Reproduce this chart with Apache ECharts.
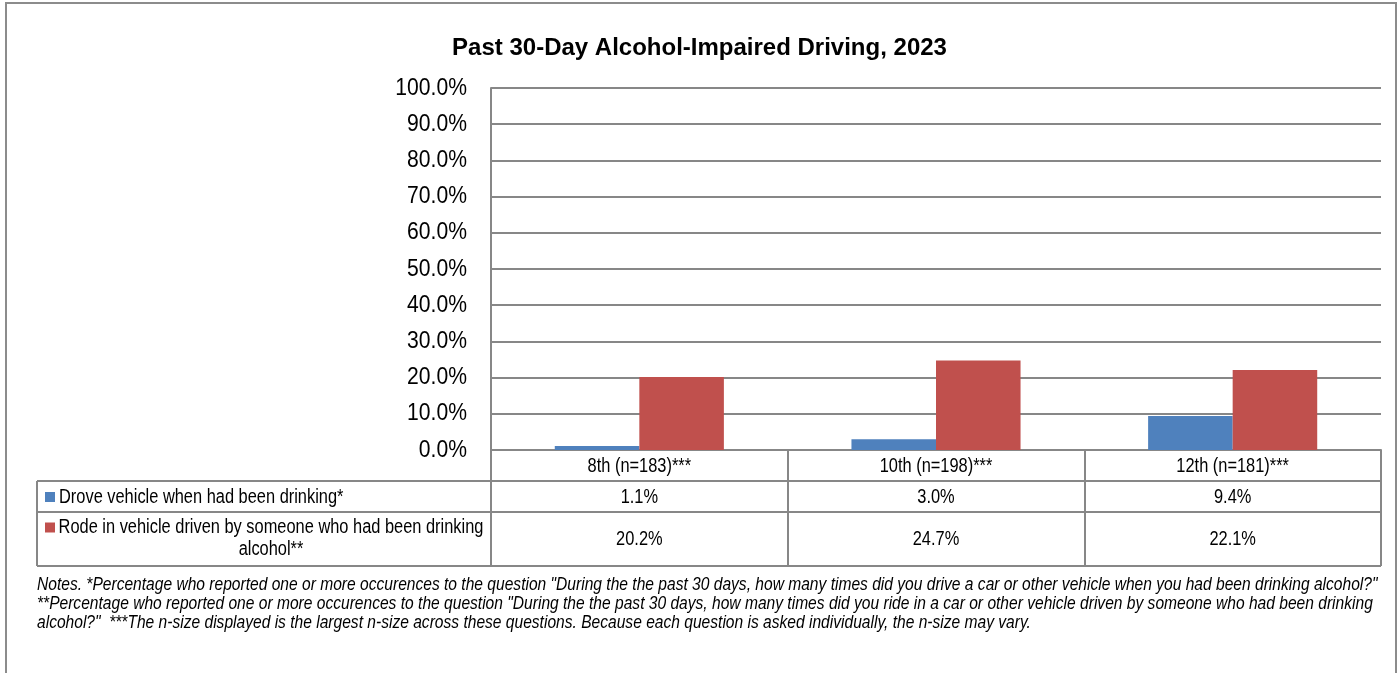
<!DOCTYPE html>
<html><head><meta charset="utf-8">
<script src="https://cdn.jsdelivr.net/npm/echarts@6/dist/echarts.min.js"></script>
<style>html,body{margin:0;padding:0;background:#fff}#c{width:1399px;height:673px}</style>
</head><body><div id="c"></div>
<script>
const titleText = 'Past 30-Day Alcohol-Impaired Driving, 2023';
const categories = ['8th (n=183)***', '10th (n=198)***', '12th (n=181)***'];
const seriesNames = ['Drove vehicle when had been drinking*', 'Rode in vehicle driven by someone who had been drinking alcohol**'];
const seriesLabelLines = [['Drove vehicle when had been drinking*'], ['Rode in vehicle driven by someone who had been drinking', 'alcohol**']];
const droveValues = [1.1, 3.0, 9.4];
const rodeValues = [20.2, 24.7, 22.1];
const yTicks = [0, 10, 20, 30, 40, 50, 60, 70, 80, 90, 100];
const seriesColors = ['#4F81BD', '#C0504D'];
const notesLines = [
  'Notes. *Percentage who reported one or more occurences to the question "During the the past 30 days, how many times did you drive a car or other vehicle when you had been drinking alcohol?"',
  '**Percentage who reported one or more occurences to the question "During the the past 30 days, how many times did you ride in a car or other vehicle driven by someone who had been drinking',
  'alcohol?"  ***The n-size displayed is the largest n-size across these questions. Because each question is asked individually, the n-size may vary.'
];

const FONT = '"Liberation Sans", Arial, sans-serif';
const NARROW = 0.82;
const GRID_C = '#878787';
const chart = echarts.init(document.getElementById('c'), null, {renderer: 'canvas'});

const option = {
  animation: false,
  backgroundColor: '#fff',
  textStyle: {fontFamily: FONT},
  title: {
    text: titleText, left: 'center', top: 31,
    textStyle: {fontFamily: FONT, fontWeight: 'bold', fontSize: 24, color: '#000'}
  },
  grid: {left: 491, right: 18, top: 88, bottom: 223, containLabel: false},
  xAxis: {
    type: 'category', data: categories,
    axisLine: {show: true, lineStyle: {color: GRID_C, width: 2}},
    axisTick: {show: true, length: 116, inside: false, lineStyle: {color: GRID_C, width: 2}},
    axisLabel: {show: false}
  },
  yAxis: {
    type: 'value', min: yTicks[0], max: yTicks[yTicks.length - 1], interval: yTicks[1] - yTicks[0],
    axisLine: {show: true, lineStyle: {color: GRID_C, width: 2}},
    axisTick: {show: false},
    splitLine: {show: true, lineStyle: {color: GRID_C, width: 2}},
    axisLabel: {show: false}
  },
  series: [
    {name: seriesNames[0], type: 'bar', data: droveValues, barGap: '0%', barCategoryGap: '43%',
      itemStyle: {color: seriesColors[0]}},
    {name: seriesNames[1], type: 'bar', data: rodeValues, barGap: '0%', barCategoryGap: '43%',
      itemStyle: {color: seriesColors[1]}}
  ]
};
chart.setOption(option);

// Data table, axis labels (condensed) and notes
const L = 37, R = 1381, yAxisY = 450, yCatBottom = 481, yRow1Bottom = 512, yRow2Bottom = 566;
const lineStyle = {stroke: GRID_C, lineWidth: 2};
const g = [];
function txt(x, y, text, size, align, scaleX, extra) {
  return Object.assign({type: 'text', x: x, y: y, scaleX: scaleX, silent: true,
    style: {text: text, fontFamily: FONT, fontSize: size, fill: '#000', align: align, verticalAlign: 'middle'}}, extra || {});
}
g.push({type: 'rect', shape: {x: 6, y: 3, width: 1390, height: 700}, style: {fill: null, stroke: '#8c8c8c', lineWidth: 2}, silent: true});
[yCatBottom, yRow1Bottom, yRow2Bottom].forEach(y => {
  g.push({type: 'line', shape: {x1: L, y1: y, x2: R, y2: y}, style: lineStyle});
});
g.push({type: 'line', shape: {x1: L, y1: yCatBottom, x2: L, y2: yRow2Bottom}, style: lineStyle});

// y-axis labels
yTicks.forEach(v => {
  const y = chart.convertToPixel({yAxisIndex: 0}, v);
  g.push(txt(467, y, v.toFixed(1) + '%', 24, 'right', 0.88));
});
// category labels
categories.forEach(c => {
  const x = chart.convertToPixel({xAxisIndex: 0}, c);
  g.push(txt(x, (yAxisY + yCatBottom) / 2 + 1, c, 20, 'center', NARROW));
});

const rows = [
  {values: droveValues, yc: (yCatBottom + yRow1Bottom) / 2 + 0.5, color: seriesColors[0], lines: seriesLabelLines[0], align: 'left'},
  {values: rodeValues, yc: (yRow1Bottom + yRow2Bottom) / 2, color: seriesColors[1], lines: seriesLabelLines[1], align: 'center'}
];
rows.forEach(r => {
  const firstY = r.lines.length > 1 ? r.yc - 11.5 : r.yc;
  g.push({type: 'rect', shape: {x: 45, y: firstY - 5, width: 10, height: 10}, style: {fill: r.color}});
  r.lines.forEach((t, li) => {
    g.push(txt(r.align === 'left' ? 59 : 271, firstY + li * 22, t, 20, r.align, NARROW));
  });
  categories.forEach((c, ci) => {
    const x = chart.convertToPixel({xAxisIndex: 0}, c);
    g.push(txt(x, r.yc, r.values[ci].toFixed(1) + '%', 20, 'center', NARROW));
  });
});
notesLines.forEach((t, i) => {
  const e = txt(37, 585 + i * 19, t, 19, 'left', 0.82);
  e.style.fontStyle = 'italic';
  g.push(e);
});
chart.setOption({graphic: {elements: g}});
</script></body></html>
